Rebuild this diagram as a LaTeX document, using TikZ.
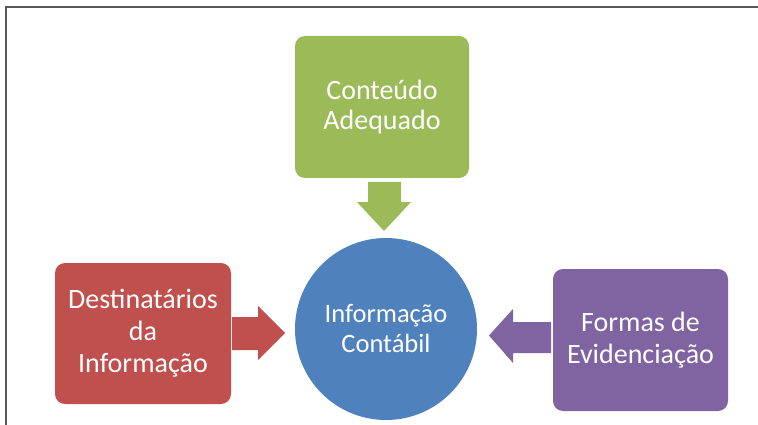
\documentclass[tikz,border=0pt]{standalone}
\usepackage{fontspec}
\setmainfont{Carlito}
\definecolor{cgreen}{HTML}{9BBB59}
\definecolor{cred}{HTML}{C0504D}
\definecolor{cpurple}{HTML}{8064A2}
\definecolor{cblue}{HTML}{4F81BD}
\definecolor{cframe}{HTML}{595959}
\begin{document}
\begin{tikzpicture}[x=1pt,y=-1pt,
  box/.style={rounded corners=10pt, draw=none, inner sep=0pt, text=white, align=center},
  boxtext/.style={font=\fontsize{28}{30}\selectfont},
  boxtextb/.style={font=\fontsize{28}{32}\selectfont},
  blockarrow/.style={draw=none}]
\useasboundingbox (0,0) rectangle (758,425);
\fill[white] (0,0) rectangle (758,425);
% frame
\draw[cframe, line width=2pt] (6,425) -- (6,7) -- (758,7);
% nodes
\node[box, boxtext, fill=cgreen, minimum width=174pt, minimum height=142pt] (cont) at (382,107) {Conteúdo\\Adequado};
\node[box, boxtextb, fill=cred, minimum width=176pt, minimum height=141pt] (dest) at (143,333.5) {Destinatários\\da\\Informação};
\node[box, boxtextb, fill=cpurple, minimum width=175pt, minimum height=142pt] (form) at (640.5,340) {Formas de\\Evidenciação};
\node[circle, draw=none, fill=cblue, minimum size=182pt, inner sep=0pt, text=white, align=center,
  font=\fontsize{26.5}{30}\selectfont] (info) at (386,329) {Informação\\Contábil};
% block arrows
\fill[cgreen] (368,182) -- (401,182) -- (401,202) -- (411,202) -- (384,231) -- (357,202) -- (368,202) -- cycle;
\fill[cred] (232,317) -- (258,317) -- (258,306) -- (285,333) -- (258,360) -- (258,350) -- (232,350) -- cycle;
\fill[cpurple] (551,322) -- (513,322) -- (513,309) -- (489,335.5) -- (513,363) -- (513,353) -- (551,353) -- cycle;
\end{tikzpicture}
\end{document}
